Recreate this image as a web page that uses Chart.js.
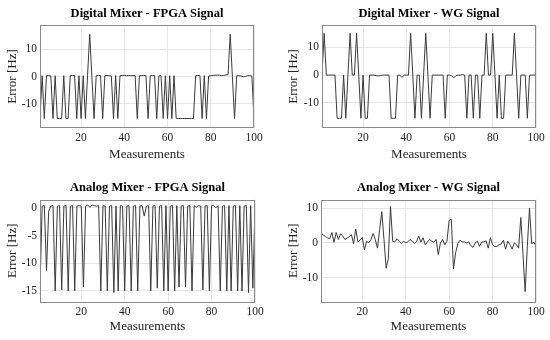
<!DOCTYPE html>
<html>
<head>
<meta charset="utf-8">
<script src="https://cdn.jsdelivr.net/npm/chart.js@4/dist/chart.umd.min.js"></script>
<style>
  body { margin: 0; background: #fff; }
  #figure { position: relative; width: 550px; height: 340px; background: #fff; }
  .panel { position: absolute; width: 275px; height: 170px; }
</style>
</head>
<body>
<div id="figure">
  <div class="panel" style="left:0px;top:0px"><canvas id="plot-dm-fpga" width="275" height="170"></canvas></div>
  <div class="panel" style="left:275px;top:0px"><canvas id="plot-dm-wg" width="275" height="170"></canvas></div>
  <div class="panel" style="left:0px;top:170px"><canvas id="plot-am-fpga" width="275" height="170"></canvas></div>
  <div class="panel" style="left:275px;top:170px"><canvas id="plot-am-wg" width="275" height="170"></canvas></div>
</div>
<script>
// measurement index 1..100 (x axis)
var measurements = [];
for (var i = 1; i <= 100; i++) { measurements.push(i); }

var x_ticks = [20, 40, 60, 80, 100];

// panel titles
var title_dm_fpga = "Digital Mixer - FPGA Signal";
var title_dm_wg = "Digital Mixer - WG Signal";
var title_am_fpga = "Analog Mixer - FPGA Signal";
var title_am_wg = "Analog Mixer - WG Signal";

// error values [Hz]
var err_dm_fpga = [
  -15.5, 0.3, -15.5, 0.3, 0.3, 0.2, -15.5, 0.3, -15.5, -15.5,
  -15.5, 0.3, -15.5, -15.5, 0.3, 0.4, 0.4, -15.5, 0.3, -15.5,
  0.3, -15.5, 0.3, 15.6, 0.0, -15.5, 0.3, 0.4, 0.3, -15.5,
  0.3, 0.4, 0.3, 0.2, -15.5, 0.3, -15.5, 0.3, 0.4, 0.4,
  0.3, 0.4, 0.3, 0.3, 0.4, -15.5, 0.3, 0.3, 0.4, 0.3,
  -15.5, 0.3, 0.4, 0.3, -15.5, 0.3, 0.3, -15.5, 0.3, -15.5,
  0.3, -15.5, 0.3, -15.5, -15.5, -15.5, -15.5, -15.5, -15.5, -15.5,
  -15.5, -15.5, 0.3, 0.4, 0.3, -15.5, 0.3, -15.5, 0.2, 0.3,
  0.4, 0.5, 0.5, 0.5, 0.3, 0.4, 0.6, 0.7, 15.6, 0.0,
  -15.5, 0.3, 0.3, 0.2, -0.1, 0.0, 0.3, 0.3, 0.2, -15.5
];

var err_dm_wg = [
  0.0, 15.0, 0.0, 0.0, 0.0, 0.0, 0.0, -15.5, -15.5, -15.5,
  0.0, -15.5, 0.0, 15.0, 0.0, 0.0, 15.0, 0.0, -15.5, 0.0,
  -15.5, -15.5, 0.0, 0.0, 0.0, -0.2, -0.3, -0.2, 0.0, 0.0,
  0.0, 0.0, -15.5, -15.5, -15.5, 0.0, 0.0, -0.8, 0.0, 0.0,
  0.0, 15.0, 0.0, -15.5, 0.0, 0.0, -15.5, 0.0, 15.0, 0.0,
  -15.5, 0.0, 0.0, 0.0, 0.0, 0.0, 0.0, -15.5, 0.0, 0.0,
  -0.3, -1.0, -0.2, 0.0, 0.0, 0.2, 0.0, -15.5, 0.0, 0.0,
  -15.5, 0.0, 0.0, -15.5, 0.0, 0.0, 15.0, 0.0, 0.0, 15.0,
  0.0, -15.5, 0.0, -15.5, -15.5, 0.0, 0.0, 0.0, 0.0, 15.0,
  0.0, -15.5, 0.0, 0.0, 0.0, -15.5, 0.0, 0.0, 0.0, 0.0
];

var err_am_fpga = [
  -14.5, 0.3, 0.4, -11.3, -0.6, 0.3, 0.4, -15.0, 0.3, 0.4,
  -14.8, 0.3, 0.4, -15.0, 0.3, 0.4, -15.0, 0.3, 0.4, 0.3,
  -14.3, 0.3, 0.5, 0.1, 0.5, 0.4, 0.3, 0.4, -15.0, 0.4,
  0.3, -15.0, 0.3, 0.4, -15.3, 0.3, -15.0, 0.4, 0.3, -15.0,
  0.3, 0.4, -15.0, 0.3, 0.4, -15.0, 0.3, 0.4, -1.5, 0.3,
  0.4, -15.0, 0.3, 0.4, -14.5, 0.3, 0.4, -15.0, 0.4, -15.0,
  0.3, 0.4, -15.0, 0.4, -14.3, 0.3, 0.4, -14.3, 0.3, 0.4,
  -15.0, 0.4, 0.1, 0.4, 0.3, -14.8, 0.3, 0.4, -15.0, 0.4,
  0.4, 0.0, 0.4, -15.0, 0.3, 0.4, -15.0, 0.4, -15.0, 0.3,
  0.4, -15.0, 0.4, -15.0, 0.3, 0.4, -15.3, 0.4, -14.5, 0.2
];

var err_am_wg = [
  2.9, 2.3, 1.9, 1.5, 1.2, 3.0, 0.2, 3.0, 1.0, 2.6,
  2.0, 1.0, 1.4, 1.8, 2.4, -0.2, 4.0, 0.3, 0.8, 1.6,
  -2.0, 0.5, 0.0, 1.0, 2.7, 1.0, -1.5, 3.8, 9.0, 1.0,
  -7.3, -4.5, 10.5, 0.5, 0.3, 1.2, 0.5, -0.2, 0.5, 0.0,
  0.3, 1.0, 0.6, -0.2, 0.4, 2.0, 0.2, 1.5, -0.5, 0.3,
  1.0, 0.5, 0.2, 1.0, -3.3, 0.0, 1.0, -0.5, 0.5, 6.5,
  6.8, -7.5, -2.8, -0.2, 0.8, 0.3, 0.3, 0.0, 0.3, -0.8,
  -1.3, 0.0, 0.5, -1.0, 0.3, 0.3, 0.6, -1.5, 1.5, -0.5,
  -1.0, -1.0, -0.5, -0.3, 0.8, -1.8, 0.5, -0.5, -1.8, 0.0,
  -0.5, -1.5, 7.3, -3.3, -14.0, -1.0, 10.0, -0.2, 0.2, -0.8
];

// y tick values for each panel
var y_ticks_dm_fpga = [-10, 0, 10];
var y_ticks_dm_wg = [-10, 0, 10];
var y_ticks_am_fpga = [-15, -10, -5, 0];
var y_ticks_am_wg = [-10, 0, 10];

var serif = "'Liberation Serif', 'DejaVu Serif', serif";
var line_color = "#3a3a3a";
var grid_color = "#e6e6e6";

// matlab style box round the axes
var box_plugin = {
  id: "axes_box",
  afterDraw: function(chart) {
    var a = chart.chartArea;
    var ctx = chart.ctx;
    ctx.save();
    ctx.strokeStyle = "#8a8a8a";
    ctx.lineWidth = 1;
    ctx.strokeRect(Math.round(a.left) + 0.5, Math.round(a.top) + 0.5,
      Math.round(a.right - a.left) - 1, Math.round(a.bottom - a.top) - 1);
    ctx.restore();
  }
};

function make_panel(canvas_id, title, values, y_min, y_max, y_ticks, geo) {
  return new Chart(canvas_id, {
    type: "line",
    data: {
      labels: measurements,
      datasets: [{
        data: values,
        fill: false,
        pointRadius: 0,
        borderWidth: 1,
        tension: 0,
        borderColor: line_color
      }]
    },
    options: {
      responsive: false,
      animation: false,
      layout: { padding: { right: geo.pad_right, left: 0, top: 0, bottom: 0 } },
      plugins: {
        legend: { display: false },
        tooltip: { enabled: false },
        title: {
          display: true,
          text: title,
          fullSize: false,
          color: "#000",
          font: { family: serif, size: 12.5, weight: "bold" },
          padding: { top: geo.title_top, bottom: geo.title_bottom }
        }
      },
      scales: {
        x: {
          type: "linear",
          min: 1,
          max: 100,
          afterBuildTicks: function(scale) {
            scale.ticks = x_ticks.map(function(v) { return { value: v }; });
          },
          afterFit: function(scale) { scale.height = geo.x_height; },
          grid: { color: grid_color, drawTicks: false },
          border: { display: false },
          ticks: { color: "#222", padding: 3, maxRotation: 0, font: { family: serif, size: 11.5 } },
          title: {
            display: true,
            text: "Measurements",
            color: "#222",
            font: { family: serif, size: 13 },
            padding: { top: 0, bottom: geo.x_title_bottom }
          }
        },
        y: {
          min: y_min,
          max: y_max,
          afterBuildTicks: function(scale) {
            scale.ticks = y_ticks.map(function(v) { return { value: v }; });
          },
          afterFit: function(scale) { scale.width = geo.y_width; },
          grid: { color: grid_color, drawTicks: false },
          border: { display: false },
          ticks: { color: "#222", padding: 3, font: { family: serif, size: 11.5 } },
          title: {
            display: true,
            text: "Error [Hz]",
            color: "#222",
            font: { family: serif, size: 13 },
            padding: { top: geo.y_title_pad, bottom: 0 }
          }
        }
      }
    },
    plugins: [box_plugin]
  });
}

function setup() {
  make_panel("plot-dm-fpga", title_dm_fpga, err_dm_fpga, -19, 19, y_ticks_dm_fpga,
    { y_width: 40, pad_right: 21, title_top: 6.5, title_bottom: 3.5, x_height: 42, x_title_bottom: 8, y_title_pad: 4.5 });
  make_panel("plot-dm-wg", title_dm_wg, err_dm_wg, -19, 18, y_ticks_dm_wg,
    { y_width: 47, pad_right: 14, title_top: 6.5, title_bottom: 3.5, x_height: 42, x_title_bottom: 8, y_title_pad: 11 });
  make_panel("plot-am-fpga", title_am_fpga, err_am_fpga, -17, 1.5, y_ticks_am_fpga,
    { y_width: 40, pad_right: 20, title_top: 10, title_bottom: 4.5, x_height: 38, x_title_bottom: 5.5, y_title_pad: 4.5 });
  make_panel("plot-am-wg", title_am_wg, err_am_wg, -17, 12.5, y_ticks_am_wg,
    { y_width: 46, pad_right: 14, title_top: 10, title_bottom: 4.5, x_height: 38, x_title_bottom: 5.5, y_title_pad: 11 });
}

document.addEventListener("DOMContentLoaded", setup);
</script>
</body>
</html>
